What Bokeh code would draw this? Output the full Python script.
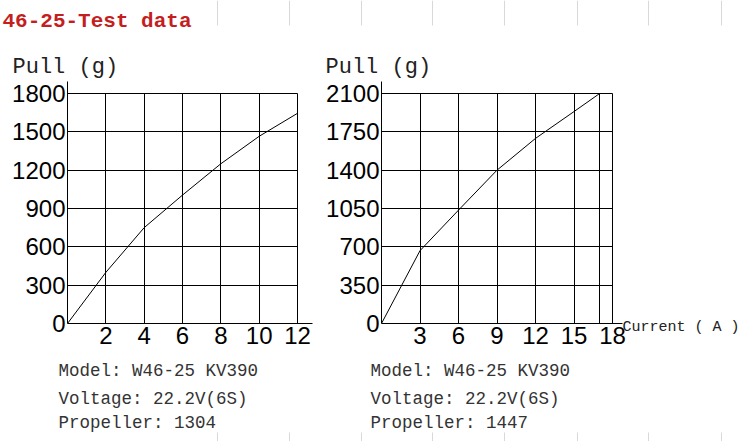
from bokeh.plotting import figure
from bokeh.layouts import row
from bokeh.models import Range1d, FixedTicker
from bokeh.core.properties import value
from bokeh.embed import file_html
from bokeh.resources import INLINE

# ---------------- data ----------------
title_text = "46-25-Test data"
y_title = "Pull (g)"
x_title = "Current ( A )"

left_current = [0, 2, 4, 6, 8, 10, 12]
left_pull = [0, 400, 750, 1005, 1250, 1465, 1645]
left_xticks = [2, 4, 6, 8, 10, 12]
left_yticks = [0, 300, 600, 900, 1200, 1500, 1800]
left_info = ["Model: W46-25 KV390", "Voltage: 22.2V(6S)", "Propeller: 1304"]

right_current = [0, 3, 6, 9, 12, 15, 17]
right_pull = [0, 665, 1035, 1400, 1690, 1935, 2100]
right_xticks = [3, 6, 9, 12, 15, 18]
right_extra_grid = [17]
right_yticks = [0, 350, 700, 1050, 1400, 1750, 2100]
right_info = ["Model: W46-25 KV390", "Voltage: 22.2V(6S)", "Propeller: 1447"]

# faint page rules visible at the top and bottom edges of the picture
page_rule_x = [217, 289, 361, 432, 504, 577, 648, 721]

TICK_FONT = "Liberation Sans Narrow, Liberation Sans"
TEXT_FONT = "Liberation Mono"

W, H = 742, 441
FRAME_TOP = 81      # canvas y of the frame top (axis overshoot)
FRAME_BOTTOM = 323  # canvas y of the x axis
GRID_H = 230        # pixels covered by the tick range


def make_panel(xs, ys, xticks, grid_x, yticks, fig_w, left_border, grid_w, overshoot_x):
    xmax = xticks[-1]
    ymax = yticks[-1]
    frame_h = FRAME_BOTTOM - FRAME_TOP
    frame_w = grid_w + overshoot_x
    x_end = xmax * frame_w / grid_w
    y_end = ymax * frame_h / GRID_H
    p = figure(
        frame_width=frame_w, frame_height=frame_h,
        width=fig_w, height=H,
        min_border_left=left_border, min_border_right=fig_w - left_border - frame_w,
        min_border_top=FRAME_TOP, min_border_bottom=H - FRAME_BOTTOM,
        x_range=Range1d(0, x_end), y_range=Range1d(0, y_end),
        output_backend="svg", toolbar_location=None,
        background_fill_color="white", border_fill_color="white",
        outline_line_color=None,
    )
    for ax, ticks, standoff in ((p.xaxis[0], xticks, 3), (p.yaxis[0], yticks, 2)):
        ax.ticker = FixedTicker(ticks=ticks)
        ax.axis_line_color = "black"
        ax.axis_line_width = 1
        ax.major_tick_in = 0
        ax.major_tick_out = 0
        ax.minor_tick_line_color = None
        ax.major_tick_line_color = None
        ax.major_label_text_font = TICK_FONT
        ax.major_label_text_font_size = "24px"
        ax.major_label_text_color = "black"
        ax.major_label_standoff = standoff
    p.xgrid.ticker = FixedTicker(ticks=grid_x)
    p.ygrid.ticker = FixedTicker(ticks=yticks)
    for g in (p.xgrid, p.ygrid):
        g.grid_line_color = "black"
        g.grid_line_alpha = 1.0
        g.grid_line_width = 1
    p.xgrid.cross_bounds = (0, ymax)
    p.ygrid.cross_bounds = (0, xmax)
    p.line(xs, ys, line_color="black", line_width=1)
    return p


# left panel: canvas x 0..318, frame left at 67
p1 = make_panel(left_current, left_pull, left_xticks, left_xticks, left_yticks,
                fig_w=318, left_border=67, grid_w=230, overshoot_x=15)
# right panel: canvas x 318..742, frame left at 381
p2 = make_panel(right_current, right_pull, right_xticks, right_xticks + right_extra_grid,
                right_yticks, fig_w=424, left_border=63, grid_w=231, overshoot_x=10)

plots = row(p1, p2, spacing=0,
            styles={"position": "absolute", "left": "0px", "top": "0px"})

# transparent text layer covering the whole window (pixel coordinates)
pt = figure(width=W, height=H, x_range=Range1d(0, W), y_range=Range1d(H, 0),
            min_border=0, x_axis_location=None, y_axis_location=None,
            output_backend="svg", toolbar_location=None,
            background_fill_alpha=0, border_fill_alpha=0, outline_line_color=None,
            styles={"position": "absolute", "left": "0px", "top": "0px"})
pt.xgrid.visible = False
pt.ygrid.visible = False

# faint page rules
pt.segment(x0=page_rule_x, y0=[0] * len(page_rule_x), x1=page_rule_x, y1=[25] * len(page_rule_x),
           line_color="#d9d9d9", line_width=1)
pt.segment(x0=page_rule_x, y0=[432] * len(page_rule_x), x1=page_rule_x, y1=[441] * len(page_rule_x),
           line_color="#d9d9d9", line_width=1)


def put(texts, xs, ys, size, color="#222222", bold=False):
    pt.text(x=xs, y=ys, text=texts, text_font=value(TEXT_FONT),
            text_font_size=size, text_color=color,
            text_font_style="bold" if bold else "normal",
            text_baseline="alphabetic", text_align="left")


put([title_text], [2], [21], "21px", color="#c41e1e", bold=True)
put([y_title, y_title], [12, 325], [67, 67], "22px")
put([x_title], [622], [327], "15px")
info_baselines = [370, 398, 422]
put(left_info, [58] * 3, info_baselines, "17.5px", color="#333333")
put(right_info, [370] * 3, info_baselines, "17.5px", color="#333333")

open("out.html", "w").write(file_html([plots, pt], INLINE))
